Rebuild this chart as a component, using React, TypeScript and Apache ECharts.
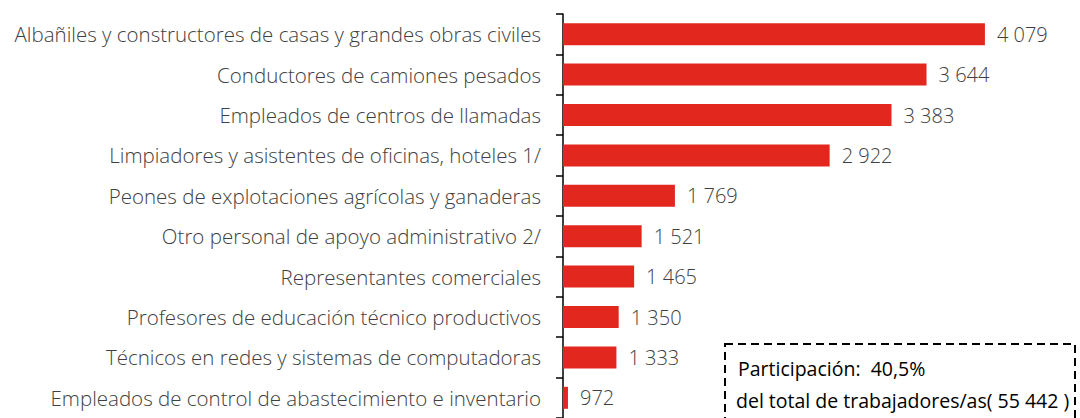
import React, { useEffect, useRef } from "react";
import * as echarts from "echarts";

const categories: string[] = [
  "Albañiles y constructores de casas y grandes obras civiles",
  "Conductores de camiones pesados",
  "Empleados de centros de llamadas",
  "Limpiadores y asistentes de oficinas, hoteles 1/",
  "Peones de explotaciones agrícolas y ganaderas",
  "Otro personal de apoyo administrativo 2/",
  "Representantes comerciales",
  "Profesores de educación técnico productivos",
  "Técnicos en redes y sistemas de computadoras",
  "Empleados de control de abastecimiento e inventario",
];
const values: number[] = [4079, 3644, 3383, 2922, 1769, 1521, 1465, 1350, 1333, 972];
const titleText = "(En número)";
const boxLine1 = "Participación:  40,5%";
const boxLine2 = "del total de trabajadores/as( 55 442 )";

const fmt = (v: number) => String(v).replace(/\B(?=(\d{3})+(?!\d))/g, " ");

export default function App() {
  const ref = useRef<HTMLDivElement>(null);
  useEffect(() => {
    if (!ref.current) return;
    const chart = echarts.init(ref.current, undefined, { renderer: "svg" });
    const font = "'Open Sans', 'Noto Sans', sans-serif";
    chart.setOption({
      animation: false,
      grid: { left: 563, top: 14, width: 478.4, height: 407, containLabel: false },
      xAxis: { type: "value", min: 935, max: 4500, show: false },
      yAxis: {
        type: "category",
        inverse: true,
        data: categories,
        axisLine: { show: true, lineStyle: { color: "#000", width: 1.5 } },
        axisTick: { show: true, length: 7, lineStyle: { color: "#000", width: 1.5 } },
        axisLabel: { margin: 22, fontSize: 20.5, fontWeight: 300, color: "#404040", fontFamily: font },
        splitLine: { show: false },
      },
      series: [
        {
          type: "bar",
          data: values,
          barWidth: 22,
          itemStyle: { color: "#E1271E" },
          label: {
            show: true,
            position: "right",
            distance: 12,
            fontSize: 20,
            fontWeight: 300,
            color: "#404040",
            fontFamily: font,
            formatter: (p: any) => fmt(p.value),
          },
        },
      ],
      graphic: [
        {
          type: "text",
          left: 487,
          top: -21,
          style: { text: titleText, fontSize: 20, fontWeight: 300, fill: "#404040", fontFamily: font },
        },
        {
          type: "rect",
          shape: { x: 725, y: 344, width: 350, height: 100 },
          style: { fill: "#fff", stroke: "#000", lineWidth: 2, lineDash: [8, 5] },
        },
        {
          type: "text",
          x: 738,
          y: 368,
          style: {
            text: boxLine1,
            fontSize: 19.5,
            fill: "#000",
            fontFamily: font,
            verticalAlign: "middle",
          },
        },
        {
          type: "text",
          x: 736,
          y: 400,
          style: {
            text: boxLine2,
            fontSize: 19.5,
            fill: "#000",
            fontFamily: font,
            verticalAlign: "middle",
          },
        },
      ],
    });
    return () => chart.dispose();
  }, []);
  return (
    <div
      ref={ref}
      style={{ position: "fixed", left: 0, top: 0, width: 1080, height: 418, background: "#fff" }}
    />
  );
}
